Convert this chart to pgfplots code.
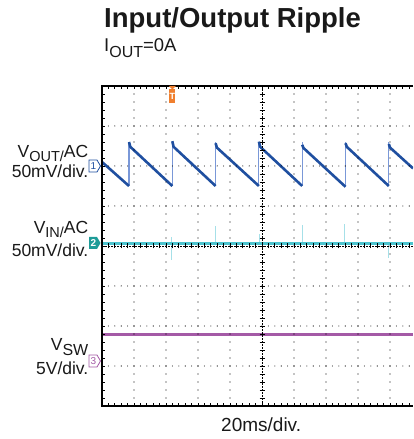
\documentclass[border=0pt]{standalone}
\usepackage{pgfplots}
\pgfplotsset{compat=1.18}
\usepackage{fontspec}
\setmainfont{Liberation Sans}
\definecolor{voutc}{HTML}{1F4FA0}
\definecolor{voutr}{HTML}{7A98D8}
\definecolor{vinc}{HTML}{4CC3CE}
\definecolor{vinsp}{HTML}{A6E0E8}
\definecolor{vswc}{HTML}{A45AA6}
\definecolor{trigc}{HTML}{F07F2E}
\definecolor{ch2c}{HTML}{1E9C98}
\begin{document}
\begin{tikzpicture}[x=1pt,y=1pt]
\useasboundingbox (0,0) rectangle (413,439);
\begin{axis}[at={(102pt,33pt)}, anchor=south west, scale only axis,
  width=311.04pt, height=320pt, xmin=0, xmax=9.72, ymin=0, ymax=8,
  hide axis, unbounded coords=jump, clip=true]
% VOUT rising edges (thin, light)
\addplot[voutr, line width=1.1pt] coordinates {
(0.844,5.5)(0.844,6.6) (0.844,nan)
(2.197,5.5)(2.197,6.6) (2.197,nan)
(3.55,5.5)(3.55,6.6) (3.55,nan)
(4.903,5.5)(4.903,6.6) (4.903,nan)
(6.256,5.5)(6.256,6.6) (6.256,nan)
(7.609,5.5)(7.609,6.6) (7.609,nan)
(8.962,5.5)(8.962,6.6)};
% VOUT falling ramps
\addplot[voutc, line width=2.6pt, line join=round] coordinates {
(0,6.10)(0.844,5.5) (0.85,nan)
(0.844,6.6)(0.884,6.48)(2.197,5.5) (2.2,nan)
(2.197,6.62)(2.237,6.48)(3.55,5.5) (3.56,nan)
(3.55,6.57)(3.59,6.46)(4.903,5.5) (4.91,nan)
(4.903,6.61)(4.943,6.48)(6.256,5.5) (6.26,nan)
(6.256,6.53)(6.296,6.45)(7.609,5.48) (7.61,nan)
(7.609,6.57)(7.649,6.48)(8.962,5.5) (8.97,nan)
(8.962,6.55)(9.002,6.46)(9.72,5.94)};
% VIN spikes
\addplot[vinsp, line width=0.9pt] coordinates {
(2.18,3.65)(2.18,4.23) (2.18,nan)
(3.55,4.06)(3.55,4.5) (3.55,nan)
(4.91,4.06)(4.91,4.3) (4.91,nan)
(6.25,4.06)(6.25,4.53) (6.25,nan)
(7.59,4.06)(7.59,4.55) (7.59,nan)
(8.96,3.7)(8.96,4.06)};
% VIN
\addplot[vinc, line width=2.6pt] coordinates {(0,4.06)(9.72,4.06)};
% VSW
\addplot[vswc, line width=3pt] coordinates {(0,1.775)(9.72,1.775)};
\end{axis}
% dotted graticule
\foreach \k in {1,2,3,4,6,7,8,9}
  \draw[black, line width=1.1pt, line cap=round, dash pattern=on 0pt off 8pt] ({102+32*\k},33) -- ++(0,320);
\foreach \k in {1,2,3,5,6,7}
  \draw[black, line width=1.1pt, line cap=round, dash pattern=on 0pt off 6.4pt] (102,{33+40*\k}) -- (413,{33+40*\k});
% centre lines
\draw[black, line width=0.7pt, dash pattern=on 1.5pt off 1.5pt] (262,33) -- (262,353);
\draw[black, line width=0.7pt, dash pattern=on 1.5pt off 1.5pt] (102,193) -- (413,193);
\foreach \k in {1,...,39} \draw[black, line width=0.7pt] (259.5,{33+8*\k}) -- ++(5,0);
\foreach \k in {1,...,48} \draw[black, line width=0.7pt] ({102+6.4*\k},190.5) -- ++(0,5);
% edge ticks
\foreach \k in {1,...,39} \draw[black, line width=0.7pt] (102,{33+8*\k}) -- ++(3,0);
\foreach \k in {1,...,48} \draw[black, line width=0.7pt] ({102+6.4*\k},353) -- ++(0,-3);
\foreach \k in {1,...,48} \draw[black, line width=0.7pt] ({102+6.4*\k},33) -- ++(0,3);
% frame
\draw[black, line width=2.2pt] (413,353) -- (102,353) -- (102,33) -- (413,33);
% trigger marker
\fill[trigc] (168.8,353) -- (175.8,353) -- (172.3,349.5) -- cycle;
\fill[trigc] (169.3,336) rectangle (175.3,350);
\node[white, inner sep=0, font=\fontsize{9}{9}\selectfont\bfseries] at (172.3,343) {T};
% channel markers
\draw[voutc, fill=white, line width=0.8pt] (89,267) -- (97,267) -- (100.5,273) -- (97,279) -- (89,279) -- cycle;
\node[voutc, inner sep=0, font=\fontsize{10}{10}\selectfont] at (93.5,273) {1};
\fill[ch2c] (89,190) -- (97,190) -- (100.5,196) -- (97,202) -- (89,202) -- cycle;
\node[white, inner sep=0, font=\fontsize{10}{10}\selectfont\bfseries] at (93.5,196) {2};
\draw[vswc, fill=white, line width=0.8pt] (89,72) -- (97,72) -- (100.5,78) -- (97,84) -- (89,84) -- cycle;
\node[vswc, inner sep=0, font=\fontsize{10}{10}\selectfont] at (93.5,78) {3};
% titles
\node[anchor=base west, inner sep=0, font=\fontsize{27.5}{30}\selectfont\bfseries, text=black!90] at (104,411) {Input/Output Ripple};
\node[anchor=base west, inner sep=0, font=\fontsize{18.5}{20}\selectfont, text=black!90] at (104,387.3) {I\raisebox{-5.5pt}{\fontsize{16}{17}\selectfont OUT}=0A};
% channel labels
\node[anchor=base east, inner sep=0, font=\fontsize{17.5}{20}\selectfont, text=black!90] at (88.5,281.7) {V\raisebox{-4pt}{\fontsize{14.5}{15}\selectfont OUT/}AC};
\node[anchor=base east, inner sep=0, font=\fontsize{17.5}{20}\selectfont, text=black!90] at (88.5,261.7) {50mV/div.};
\node[anchor=base east, inner sep=0, font=\fontsize{17.5}{20}\selectfont, text=black!90] at (88.5,205.5) {V\raisebox{-4pt}{\fontsize{14.5}{15}\selectfont IN/}AC};
\node[anchor=base east, inner sep=0, font=\fontsize{17.5}{20}\selectfont, text=black!90] at (88.5,182.3) {50mV/div.};
\node[anchor=base east, inner sep=0, font=\fontsize{17.5}{20}\selectfont, text=black!90] at (88.5,88) {V\raisebox{-5pt}{\fontsize{16}{18}\selectfont SW}};
\node[anchor=base east, inner sep=0, font=\fontsize{17.5}{20}\selectfont, text=black!90] at (88.5,64.5) {5V/div.};
\node[anchor=base west, inner sep=0, font=\fontsize{19}{22}\selectfont, text=black!90] at (221,8) {20ms/div.};
\end{tikzpicture}
\end{document}
